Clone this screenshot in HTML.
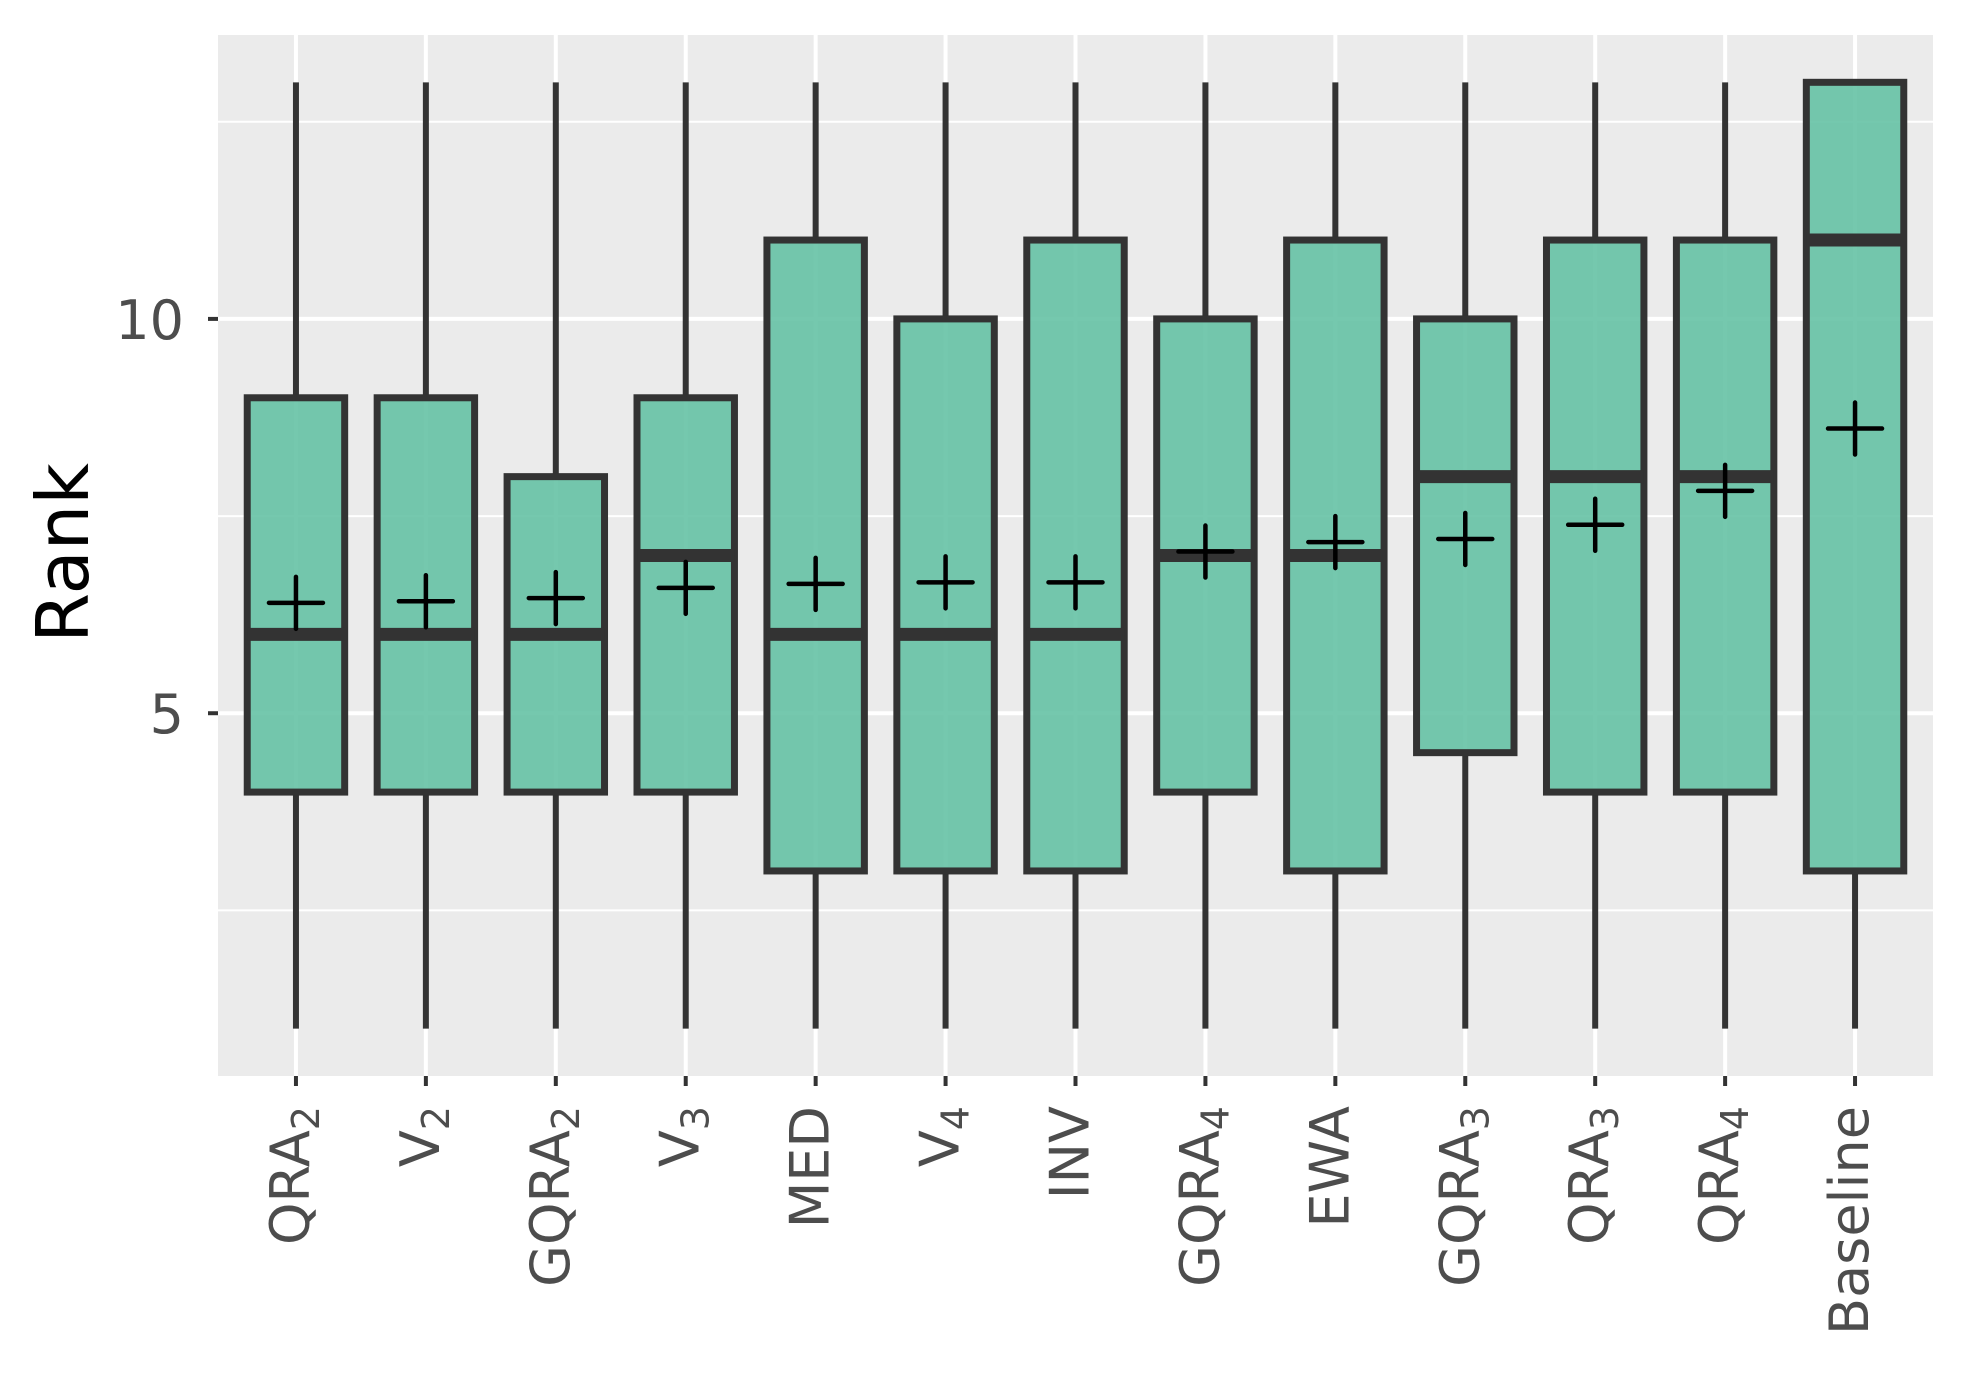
<!DOCTYPE html>
<html><head><meta charset="utf-8">
<style>html,body{margin:0;padding:0;background:#fff}svg{display:block}</style>
</head><body>
<svg id="chart" width="1968" height="1377" viewBox="0 0 1968 1377" xmlns="http://www.w3.org/2000/svg" font-family="DejaVu Sans, Liberation Sans, sans-serif">
<rect x="218" y="35" width="1715" height="1041" fill="#ebebeb"/>
<g id="grid"></g>
<g id="boxes"></g>
<g id="axes"></g>
<text transform="translate(88,553) rotate(-90)" text-anchor="middle" font-size="72" fill="#000">Rank</text>
</svg>
<script>
const categories = ["QRA","V","GQRA","V","MED","V","INV","GQRA","EWA","GQRA","QRA","QRA","Baseline"];
const subscripts = ["2","2","2","3","","4","","4","","3","3","4",""];
const whiskerLow = [1,1,1,1,1,1,1,1,1,1,1,1,1];
const q1 = [4,4,4,4,3,3,3,4,3,4.5,4,4,3];
const medians = [6,6,6,7,6,6,6,7,7,8,8,8,11];
const q3 = [9,9,8,9,11,10,11,10,11,10,11,11,13];
const whiskerHigh = [13,13,13,13,13,13,13,13,13,13,13,13,13];
const means = [6.40,6.42,6.46,6.59,6.64,6.66,6.66,7.05,7.17,7.21,7.39,7.82,8.61];
const yTicks = [5,10];
const yMinor = [2.5,7.5,12.5];

const NS = "http://www.w3.org/2000/svg";
const PX0 = 218, PX1 = 1933, PY0 = 35, PY1 = 1076;
const yMin = 0.4, yMax = 13.6;
const n = categories.length;
const band = (PX1 - PX0) / (n - 1 + 1.2);
function xScale(i){ return PX0 + band * (0.6 + i); }
function yScale(v){ return PY1 - (v - yMin) / (yMax - yMin) * (PY1 - PY0); }
function mk(tag, attrs, parent){
  const e = document.createElementNS(NS, tag);
  for (const k in attrs) e.setAttribute(k, attrs[k]);
  parent.appendChild(e);
  return e;
}
const grid = document.getElementById('grid');
const boxes = document.getElementById('boxes');
const axes = document.getElementById('axes');

yMinor.forEach(v => {
  const l = mk('line', {x1:PX0, x2:PX1, y1:yScale(v), y2:yScale(v), stroke:'#fff', 'stroke-width':2}, grid);
  
  
});
yTicks.forEach(v => {
  const l = mk('line', {x1:PX0, x2:PX1, y1:yScale(v), y2:yScale(v), stroke:'#fff', 'stroke-width':4}, grid);
  
  
  const t = mk('line', {x1:PX0-10, x2:PX0, y1:yScale(v), y2:yScale(v), stroke:'#333', 'stroke-width':4}, axes);
  
  
  const lab = mk('text', {x:PX0-34, y:yScale(v)+20, 'text-anchor':'end', 'font-size':54, fill:'#4d4d4d'}, axes);
  lab.textContent = String(v);
  
  
});
categories.forEach((c, i) => {
  const x = xScale(i);
  const g = mk('line', {x1:x, x2:x, y1:PY0, y2:PY1, stroke:'#fff', 'stroke-width':4}, grid);
  
  
  const t = mk('line', {x1:x, x2:x, y1:PY1, y2:PY1+10, stroke:'#333', 'stroke-width':4}, axes);
  
  
  const lab = mk('text', {transform:'translate(' + (x+13) + ',' + (PY1+30) + ') rotate(-90)', 'text-anchor':'end', 'font-size':54, fill:'#4d4d4d'}, axes);
  
  
  const main = mk('tspan', {}, lab);
  main.textContent = c;
  if (subscripts[i]) {
    const s = mk('tspan', {'font-size':38, dy:10}, lab);
    s.textContent = subscripts[i];
  }

  const bw = band * 0.75;
  const grp = mk('g', {}, boxes);
  
  
  mk('line', {x1:x, x2:x, y1:yScale(whiskerLow[i]), y2:yScale(q1[i]), stroke:'#333', 'stroke-width':6}, grp);
  mk('line', {x1:x, x2:x, y1:yScale(q3[i]), y2:yScale(whiskerHigh[i]), stroke:'#333', 'stroke-width':6}, grp);
  mk('rect', {x:x-bw/2, y:yScale(q3[i]), width:bw, height:yScale(q1[i])-yScale(q3[i]), fill:'#66c2a5', 'fill-opacity':0.9, stroke:'#333', 'stroke-width':7}, grp);
  mk('line', {x1:x-bw/2, x2:x+bw/2, y1:yScale(medians[i]), y2:yScale(medians[i]), stroke:'#333', 'stroke-width':13}, grp);
  const my = yScale(means[i]);
  const m = mk('path', {d:'M' + (x-27) + ' ' + my + 'H' + (x+27) + 'M' + x + ' ' + (my-26) + 'V' + (my+26), stroke:'#000', 'stroke-width':4.5, 'stroke-linecap':'round', fill:'none'}, grp);
  
  
});
</script>
</body></html>
